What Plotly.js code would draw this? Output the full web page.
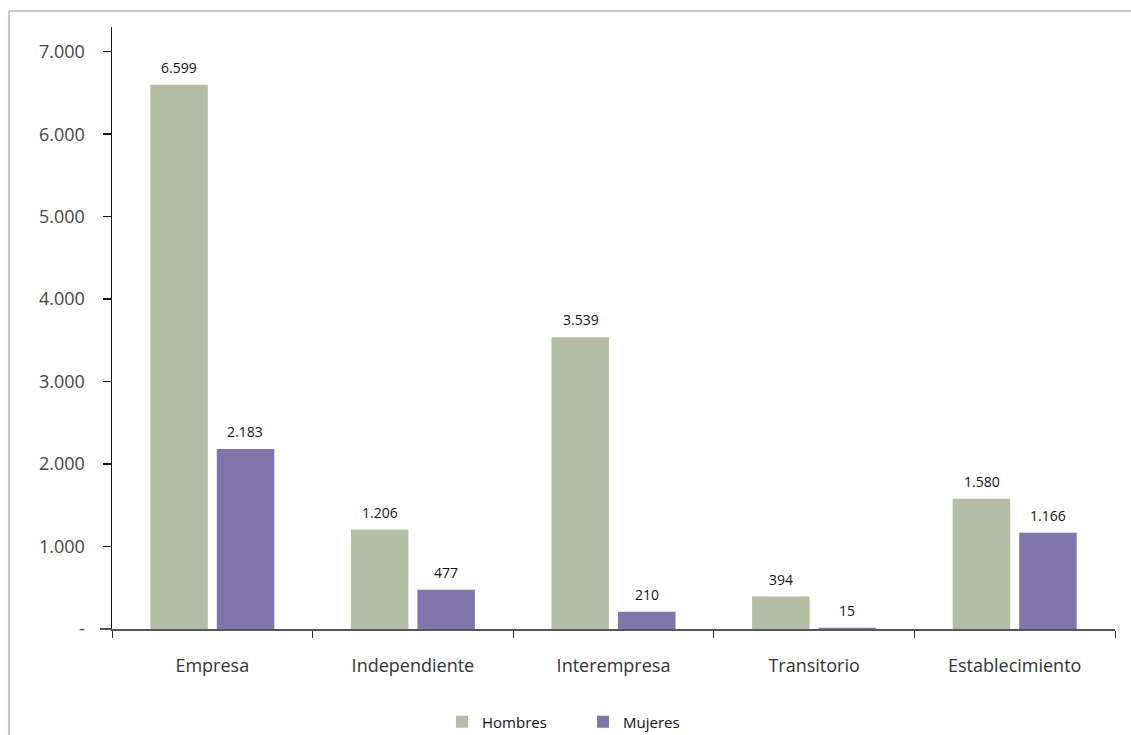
<!DOCTYPE html>
<html>
<head>
<meta charset="utf-8">
<script src="https://cdn.plot.ly/plotly-3.0.1.min.js"></script>
<style>html,body{margin:0;padding:0;background:#fff;}#chart{width:1131px;height:735px;}</style>
</head>
<body>
<div id="chart"></div>
<script>
const categories = ["Empresa", "Independiente", "Interempresa", "Transitorio", "Establecimiento"];
const hombres = [6599, 1206, 3539, 394, 1580];
const mujeres = [2183, 477, 210, 15, 1166];
const yTickVals = [0, 1000, 2000, 3000, 4000, 5000, 6000, 7000];
const yTickText = ["-", "1.000", "2.000", "3.000", "4.000", "5.000", "6.000", "7.000"];

const GREEN = "#b3bea5";
const PURPLE = "#8175ad";
const FONT = "Open Sans, Lato, sans-serif";

function fmt(v) { return v.toLocaleString("de-DE"); }

const traces = [
  {type: "bar", name: "Hombres", x: categories, y: hombres, marker: {color: GREEN}, hoverinfo: "none"},
  {type: "bar", name: "Mujeres", x: categories, y: mujeres, marker: {color: PURPLE}, hoverinfo: "none"}
];

const annotations = [];
categories.forEach((c, i) => {
  annotations.push({x: c, y: hombres[i], xref: "x", yref: "y", text: fmt(hombres[i]), showarrow: false,
    xshift: -33, yshift: 6, yanchor: "bottom", font: {family: FONT, size: 14, color: "#111"}});
  annotations.push({x: c, y: mujeres[i], xref: "x", yref: "y", text: fmt(mujeres[i]), showarrow: false,
    xshift: 33, yshift: 6, yanchor: "bottom", font: {family: FONT, size: 14, color: "#111"}});
});

const W = 1003, H = 602;
const layout = {
  width: 1131, height: 735,
  margin: {l: 112, r: 16, t: 27, b: 106, autoexpand: false},
  paper_bgcolor: "#fff", plot_bgcolor: "#fff",
  barmode: "group", bargap: 0.337, bargroupgap: 0.135,
  font: {family: FONT},
  showlegend: true,
  legend: {orientation: "h", x: (442 - 112) / W, xanchor: "left", y: -(722 - 629) / H, yanchor: "middle",
    font: {family: FONT, size: 15, color: "#111"}, itemwidth: 30, entrywidth: 96, entrywidthmode: "pixels", tracegroupgap: 0},
  xaxis: {
    type: "category", showgrid: false, zeroline: false,
    showline: true, linecolor: "#555", linewidth: 2,
    ticks: "outside", tickson: "boundaries", ticklen: 7, tickcolor: "#333", tickwidth: 1,
    tickfont: {family: FONT, size: 18, color: "#333"}, ticklabelstandoff: 19
  },
  yaxis: {
    range: [0, 7300], showgrid: false, zeroline: false,
    showline: true, linecolor: "#111", linewidth: 1.5,
    ticks: "outside", ticklen: 8, tickcolor: "#111", tickwidth: 1.5,
    tickvals: yTickVals, ticktext: yTickText,
    tickfont: {family: FONT, size: 18, color: "#444"}, ticklabelstandoff: 14
  },
  annotations: annotations,
  shapes: [
    {type: "line", xref: "paper", yref: "paper", x0: -12 / W, x1: 0, y0: 0, y1: 0, line: {color: "#555", width: 2}},
    {type: "line", xref: "paper", yref: "paper", x0: (9 - 112) / W, x1: (9 - 112) / W, y0: 1 + (27 - 11) / H, y1: -(735 - 629) / H, line: {color: "#b5b0d6", width: 1.5}},
    {type: "line", xref: "paper", yref: "paper", x0: (9 - 112) / W, x1: (1131 - 112) / W, y0: 1 + (27 - 11) / H, y1: 1 + (27 - 11) / H, line: {color: "#b5b0d6", width: 1.5}}
  ]
};

Plotly.newPlot("chart", traces, layout, {displayModeBar: false, staticPlot: true});
</script>
</body>
</html>
